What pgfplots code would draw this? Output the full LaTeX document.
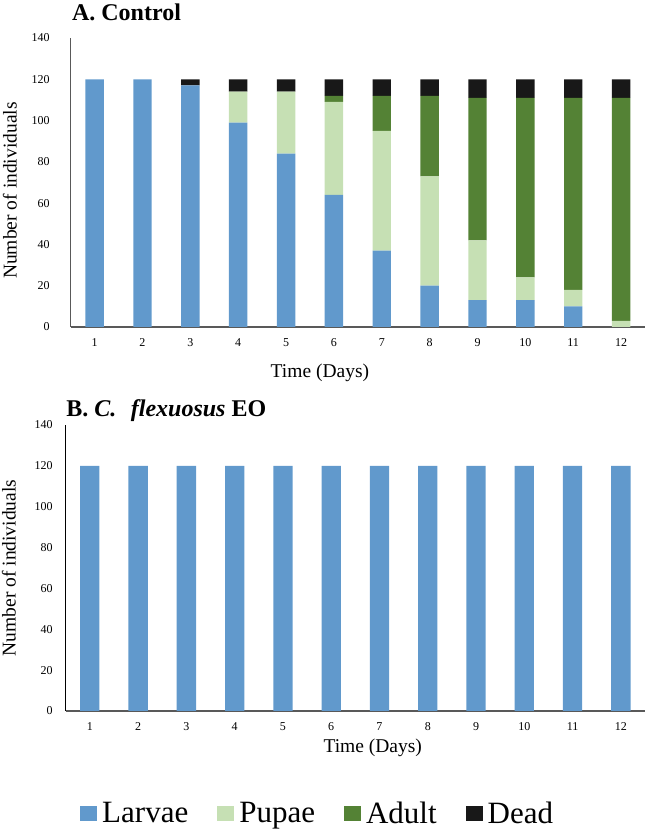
\documentclass[border=0pt]{standalone}
\usepackage{fontspec}
\setmainfont{Liberation Serif}
\usepackage{pgfplots}
\usepackage{pgfplotstable}
\pgfplotsset{compat=1.18}

\definecolor{larvae}{HTML}{6199CC}
\definecolor{pupae}{HTML}{C6E0B4}
\definecolor{adult}{HTML}{548235}
\definecolor{dead}{HTML}{181818}
\definecolor{axisgray}{HTML}{595959}

% A. Control
\pgfplotstableread{
day larvae pupae adult dead
1  120 0  0   0
2  120 0  0   0
3  117 0  0   3
4  99  15 0   6
5  84  30 0   6
6  64  45 3   8
7  37  58 17  8
8  20  53 39  8
9  13  29 69  9
10 13  11 87  9
11 10  8  93  9
12 0   3  108 9
}\controltab

% B. C. flexuosus EO
\pgfplotstableread{
day larvae pupae adult dead
1  120 0 0 0
2  120 0 0 0
3  120 0 0 0
4  120 0 0 0
5  120 0 0 0
6  120 0 0 0
7  120 0 0 0
8  120 0 0 0
9  120 0 0 0
10 120 0 0 0
11 120 0 0 0
12 120 0 0 0
}\eotab

\pgfplotsset{
  stages/.style={
    scale only axis, anchor=south west,
    ybar stacked,
    xmin=0.5, xmax=12.5, ymin=0, ymax=140,
    xtick={1,...,12}, ytick={0,20,...,140},
    axis lines=left,
    axis line style={-},
    x axis line style={-, draw=axisgray, line width=1.6bp},
    major tick length=0pt,
    /pgf/number format/assume math mode=true,
    ticklabel style={font=\fontsize{12bp}{14bp}\selectfont, inner sep=0pt},
    xticklabel style={anchor=north, yshift=-11.5bp},
    label style={font=\fontsize{19.5bp}{22bp}\selectfont},
    % cancel the default 6pt lift of the title
    title style={anchor=base west, inner sep=0pt, yshift=-6pt,
      font=\fontsize{24bp}{27bp}\selectfont\bfseries},
  },
}

\begin{document}
\begin{tikzpicture}
\useasboundingbox (0,0) rectangle (645bp,830bp);

\begin{axis}[stages,
  at={(70.7bp,503bp)}, width=574.3bp, height=289bp,
  bar width=0.385,
  y axis line style={-, draw=axisgray, line width=1.1bp},
  yticklabel style={anchor=east, xshift=-21bp},
  title={A. Control},
  title style={at={(axis description cs:0.002,1.062)}},
  xlabel={Time (Days)},
  xlabel style={at={(axis description cs:0.434,-0.159)}, anchor=center},
  ylabel={Number of individuals},
  ylabel style={at={(axis description cs:-0.106,0.472)}, anchor=center},
]
\addplot[fill=larvae, draw=none] table[x=day, y=larvae] {\controltab};
\addplot[fill=pupae,  draw=none] table[x=day, y=pupae]  {\controltab};
\addplot[fill=adult,  draw=none] table[x=day, y=adult]  {\controltab};
\addplot[fill=dead,   draw=none] table[x=day, y=dead]   {\controltab};
\end{axis}

\begin{axis}[stages,
  at={(65.7bp,119bp)}, width=579.3bp, height=286bp,
  bar width=0.40,
  y axis line style={-, draw=black, line width=0.9bp},
  yticklabel style={anchor=east, xshift=-13bp},
  title={B. {\itshape C.\hspace{0.35em} flexuosus} EO},
  title style={at={(axis description cs:0.001,1.031)}},
  xlabel={Time (Days)},
  xlabel style={at={(axis description cs:0.53,-0.129)}, anchor=center},
  ylabel={Number of individuals},
  ylabel style={at={(axis description cs:-0.098,0.5)}, anchor=center},
  legend columns=4,
  legend image code/.code={\fill[#1, draw=none] (0bp,-7.5bp) rectangle (17bp,7.5bp);},
  legend style={draw=none, fill=none, at={(axis description cs:0.4375,-0.357)},
    anchor=center, font=\fontsize{31bp}{34bp}\selectfont,
    nodes={inner xsep=5bp, inner ysep=0bp},
    /tikz/every even column/.append style={column sep=24bp}},
]
\addplot[fill=larvae, draw=none] table[x=day, y=larvae] {\eotab};
\addplot[fill=pupae,  draw=none] table[x=day, y=pupae]  {\eotab};
\addplot[fill=adult,  draw=none] table[x=day, y=adult]  {\eotab};
\addplot[fill=dead,   draw=none] table[x=day, y=dead]   {\eotab};
\legend{Larvae, Pupae, Adult, Dead}
\end{axis}
\end{tikzpicture}
\end{document}
